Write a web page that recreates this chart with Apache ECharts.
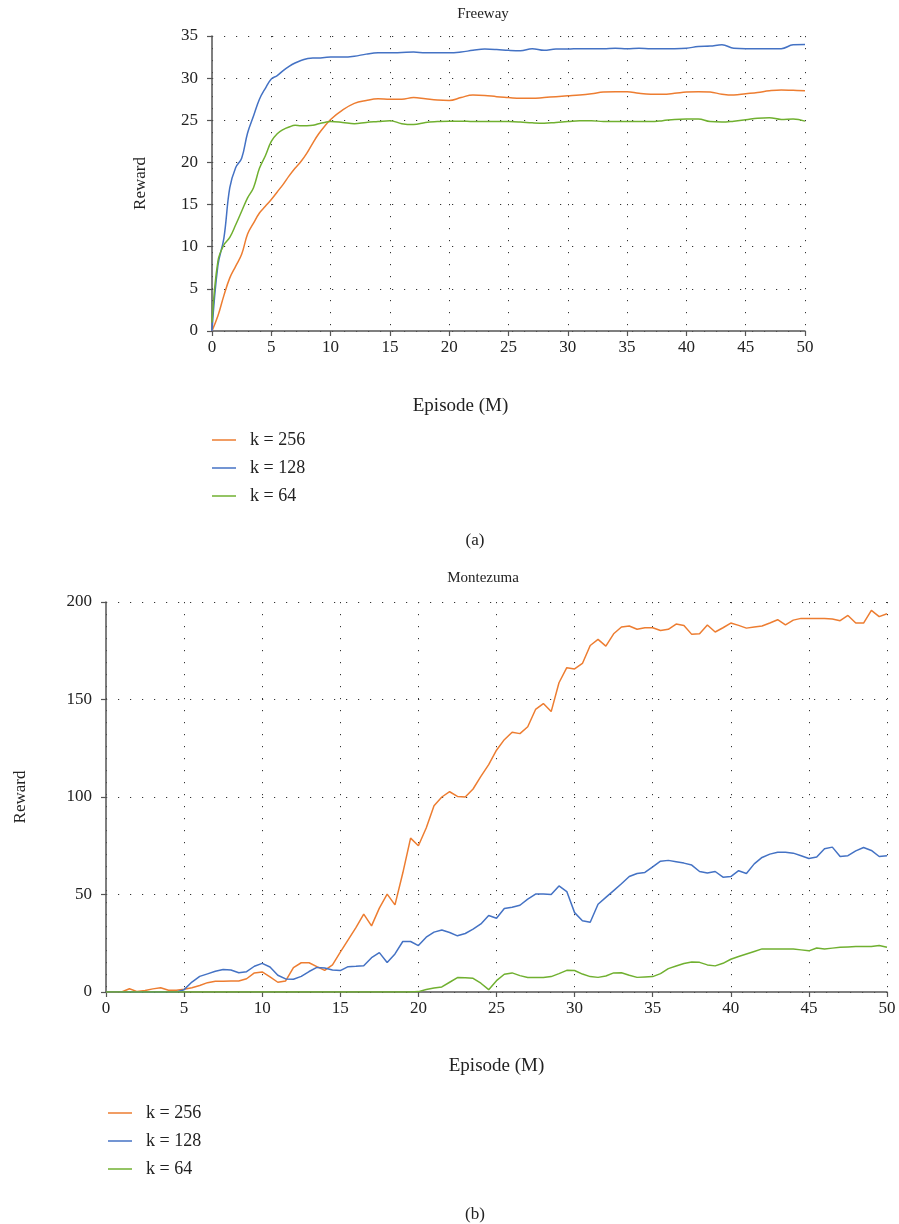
<!DOCTYPE html>
<html>
<head>
<meta charset="utf-8">
<script src="https://cdn.jsdelivr.net/npm/echarts@6/dist/echarts.min.js"></script>
<style>
html,body{margin:0;padding:0;background:#fff;}
#main{width:899px;height:1224px;}
</style>
</head>
<body>
<div id="main"></div>
<script>
var seriesNames = ['k = 256', 'k = 128', 'k = 64'];
var xTicks = [0, 5, 10, 15, 20, 25, 30, 35, 40, 45, 50];

// Freeway (a)
var freewayX = [0,0.5,1,1.5,2,2.5,3,3.5,4,4.5,5,5.5,6,6.5,7,7.5,8,8.5,9,9.5,10,
  11,12,13,14,15,16,17,18,19,20,21,22,23,24,25,26,27,28,29,30,
  31,32,33,34,35,36,37,38,39,40,41,42,43,44,45,46,47,48,49,50];
var freeway256 = [0,1.8,4.2,6.3,7.7,9.1,11.5,12.8,14.0,14.8,15.6,16.5,17.4,18.4,19.3,20.1,21.1,22.3,23.4,24.3,25.1,
  26.2,27.0,27.35,27.55,27.5,27.5,27.7,27.55,27.4,27.35,27.7,28.0,27.95,27.8,27.7,27.6,27.6,27.7,27.8,27.9,
  28.0,28.15,28.35,28.4,28.4,28.2,28.1,28.1,28.2,28.35,28.4,28.35,28.1,28.0,28.15,28.3,28.5,28.6,28.55,28.5];
var freeway128 = [0,7.8,11,17,19.4,20.5,23.5,25.5,27.5,28.8,29.9,30.3,30.9,31.4,31.8,32.1,32.3,32.4,32.4,32.45,32.5,
  32.5,32.6,32.85,33.0,33.0,33.05,33.1,33.0,33.0,33.0,33.1,33.3,33.45,33.4,33.3,33.25,33.5,33.3,33.45,33.45,
  33.5,33.5,33.5,33.55,33.5,33.55,33.5,33.5,33.5,33.55,33.75,33.8,33.95,33.55,33.5,33.5,33.5,33.5,33.95,34.0];
var freeway64 = [1,8.3,10.2,11.1,12.6,14.2,15.8,17.0,19.3,20.8,22.5,23.4,23.9,24.2,24.4,24.35,24.35,24.4,24.6,24.75,24.85,
  24.75,24.6,24.75,24.85,24.95,24.6,24.5,24.75,24.85,24.9,24.9,24.85,24.85,24.85,24.85,24.8,24.7,24.65,24.75,24.85,
  24.95,24.95,24.85,24.85,24.85,24.85,24.85,24.95,25.1,25.15,25.15,24.85,24.8,24.9,25.05,25.25,25.3,25.1,25.15,24.9];

// Montezuma (b)
var montezumaX = [];
for (var k = 0; k <= 100; k++) montezumaX.push(k / 2);
var montezuma256 = [0,0,0,1.7,0.2,0.8,1.6,2.2,0.9,0.9,1.4,
  2.2,3.3,4.8,5.5,5.5,5.6,5.65,6.8,9.8,10.3,
  7.7,5.0,5.65,12.5,15.0,15.0,13.0,11.1,13.9,20.4,
  26.7,33.0,39.9,33.9,43.0,50.2,44.7,61,78.9,75,
  84.1,95.5,100,102.7,100.3,100,104.1,110.6,116.6,124,
  129.4,133.2,132.5,136,144.9,147.9,143.8,158.6,166.3,165.7,
  168.5,177.7,180.8,177.4,183.7,187.2,187.7,186,186.8,186.8,
  185.4,186,188.7,188,183.4,183.7,188.2,184.6,186.8,189.2,
  188,186.6,187.2,187.7,189.2,190.9,188.3,190.7,191.6,191.6,
  191.6,191.6,191.3,190.4,193.1,189.2,189.2,195.7,192.5,194];
var montezuma128 = [0,0,0,0,0,0,0,0,0,0,1.2,
  5.1,8.0,9.3,10.6,11.5,11.3,9.9,10.4,13.2,14.7,
  12.8,8.6,6.7,6.5,8.0,10.5,12.6,12.3,11.3,11.0,
  13.0,13.2,13.5,17.6,20.2,15.1,19.5,25.9,25.9,23.8,
  28.1,30.7,31.8,30.5,28.8,30.0,32.2,34.9,39.2,37.8,
  42.8,43.5,44.5,47.6,50.2,50.2,50.0,54.4,51.5,40.7,
  36.5,35.8,45,48.5,52,55.5,59.2,60.8,61.3,64.2,
  67.1,67.5,66.8,66.1,65.1,61.8,61,61.8,58.9,59.2,
  62.2,60.8,65.7,69,70.7,71.7,71.7,71.2,69.9,68.5,
  69.2,73.5,74.3,69.5,69.9,72.4,74.1,72.6,69.5,69.9];
var montezuma64 = [0,0,0,0,0,0,0,0,0,0,0,
  0,0,0,0,0,0,0,0,0,0,
  0,0,0,0,0,0,0,0,0,0,
  0,0,0,0,0,0,0,0,0,0.2,
  1.3,2.0,2.6,5.0,7.4,7.3,7.0,4.5,1.2,5.8,
  9.1,9.8,8.4,7.4,7.4,7.4,7.9,9.4,11.1,11.0,
  9.2,7.9,7.5,8.2,9.8,9.9,8.6,7.5,7.7,7.9,
  9.4,12.0,13.3,14.6,15.4,15.2,13.9,13.4,14.7,16.8,
  18.2,19.5,20.8,22.1,22.1,22.1,22.1,22.1,21.6,21.1,
  22.6,22.1,22.5,22.9,23.1,23.3,23.3,23.3,23.8,22.9];

var colors = ['#ED7D31', '#4472C4', '#70B030'];
var FONT = '"Liberation Serif", "DejaVu Serif", serif';

function pairs(xs, ys) { return xs.map(function (x, i) { return [x, ys[i]]; }); }

var dotted = { color: '#333', width: 1, type: [1.2, 10.8] };

function xAxisCfg(gridIndex, gap, shiftLeft) {
  return {
    type: 'value', gridIndex: gridIndex, min: 0, max: 50, interval: 5,
    name: 'Episode (M)', nameLocation: 'middle', nameGap: gap,
    nameTextStyle: { fontFamily: FONT, fontSize: 19, color: '#222', padding: [0, shiftLeft * 2, 0, 0] },
    axisLine: { show: true, onZero: false, lineStyle: { color: '#555', width: 1.5 } },
    axisTick: { show: true, inside: false, length: 5, lineStyle: { color: '#555', width: 1.2 } },
    axisLabel: { fontFamily: FONT, fontSize: 17, color: '#222', margin: 8,
      formatter: function (v) { return xTicks.indexOf(v) >= 0 ? String(v) : ''; } },
    splitLine: { show: true, lineStyle: dotted }
  };
}
function yAxisCfg(gridIndex, max, interval, gap) {
  return {
    type: 'value', gridIndex: gridIndex, min: 0, max: max, interval: interval,
    name: 'Reward', nameLocation: 'middle', nameGap: gap,
    nameTextStyle: { fontFamily: FONT, fontSize: 17, color: '#222' },
    axisLine: { show: true, lineStyle: { color: '#555', width: 1.5 } },
    axisTick: { show: true, inside: false, length: 5, lineStyle: { color: '#555', width: 1.2 } },
    axisLabel: { fontFamily: FONT, fontSize: 17, color: '#222', margin: 14 },
    splitLine: { show: true, lineStyle: dotted }
  };
}
function lineSeries(name, xi, data, color, smooth) {
  return {
    name: name, type: 'line', xAxisIndex: xi, yAxisIndex: xi, data: data,
    symbol: 'none', smooth: smooth, animation: false,
    lineStyle: { color: color, width: 1.5 }, itemStyle: { color: color }
  };
}
function legendCfg(left, top) {
  return {
    data: seriesNames, orient: 'vertical', left: left, top: top, padding: 0,
    icon: 'rect', itemWidth: 24, itemHeight: 1.5, itemGap: 10, selectedMode: false,
    textStyle: { fontFamily: FONT, fontSize: 18, lineHeight: 18, color: '#222', padding: [0, 0, 0, 9] }
  };
}

var chart = echarts.init(document.getElementById('main'), null, { renderer: 'canvas' });
chart.setOption({
  backgroundColor: '#fff',
  animation: false,
  color: colors,
  title: [
    { text: 'Freeway', left: 478, top: 2, textAlign: 'center',
      textStyle: { fontFamily: FONT, fontSize: 15, fontWeight: 'normal', color: '#222' } },
    { text: 'Montezuma', left: 478, top: 566, textAlign: 'center',
      textStyle: { fontFamily: FONT, fontSize: 15, fontWeight: 'normal', color: '#222' } },
    { text: '(a)', left: 470, top: 527, textAlign: 'center',
      textStyle: { fontFamily: FONT, fontSize: 17, fontWeight: 'normal', color: '#222' } },
    { text: '(b)', left: 470, top: 1201, textAlign: 'center',
      textStyle: { fontFamily: FONT, fontSize: 17, fontWeight: 'normal', color: '#222' } }
  ],
  legend: [legendCfg(212, 431), legendCfg(108, 1104)],
  grid: [
    { left: 212, top: 36, width: 593, height: 295 },
    { left: 106, top: 602, width: 781, height: 390 }
  ],
  xAxis: [xAxisCfg(0, 66, 48), xAxisCfg(1, 65, 0)],
  yAxis: [yAxisCfg(0, 35, 5, 63), yAxisCfg(1, 200, 50, 77)],
  series: [
    lineSeries(seriesNames[0], 0, pairs(freewayX, freeway256), colors[0], 0.4),
    lineSeries(seriesNames[1], 0, pairs(freewayX, freeway128), colors[1], 0.4),
    lineSeries(seriesNames[2], 0, pairs(freewayX, freeway64), colors[2], 0.4),
    lineSeries(seriesNames[0], 1, pairs(montezumaX, montezuma256), colors[0], false),
    lineSeries(seriesNames[1], 1, pairs(montezumaX, montezuma128), colors[1], false),
    lineSeries(seriesNames[2], 1, pairs(montezumaX, montezuma64), colors[2], false)
  ]
});
</script>
</body>
</html>
